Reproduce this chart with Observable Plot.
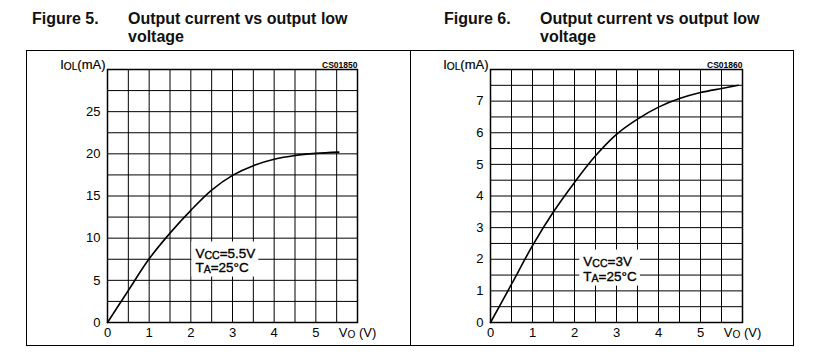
<!DOCTYPE html>
<html><head><meta charset="utf-8">
<script src="https://cdn.jsdelivr.net/npm/d3@7"></script>
<script src="https://cdn.jsdelivr.net/npm/@observablehq/plot@0.6"></script>
<style>
body{margin:0;background:#fff;width:823px;height:363px;position:relative;overflow:hidden;font-family:"Liberation Sans",Arial,sans-serif;}
.title{position:absolute;top:10px;font-weight:bold;font-size:16px;line-height:18px;color:#111;white-space:nowrap;}
.box{position:absolute;top:50px;height:296px;border:1px solid #000;box-sizing:border-box;pointer-events:none;}
.chart{position:absolute;top:50px;}
</style></head><body>
<div class="title" style="left:32px">Figure 5.</div>
<div class="title" style="left:128px">Output current vs output low<br>voltage</div>
<div class="title" style="left:444px">Figure 6.</div>
<div class="title" style="left:540px">Output current vs output low<br>voltage</div>
<div id="c5" class="chart" style="left:26px"></div>
<div id="c6" class="chart" style="left:410px"></div>
<div class="box" style="left:26px;width:385px"></div>
<div class="box" style="left:410px;width:384px"></div>
<script>
// ---- data ----
const xGrid = [0,0.5,1,1.5,2,2.5,3,3.5,4,4.5,5,5.5,6];
const xTicks = [0,1,2,3,4,5,6];
const xLabel = "V{O} (V)";
const yLabel = "I{OL}(mA)";

// Figure 5 (VCC = 5.5 V)
const f5Vo  = [0,0.5,1,1.5,2,2.5,3,3.5,4,4.5,5,5.55];
const f5Iol = [0,3.8,7.55,10.6,13.3,15.7,17.45,18.6,19.35,19.8,20.05,20.2];
const f5YGrid = [0,2.5,5,7.5,10,12.5,15,17.5,20,22.5,25,27.5,30];
const f5YTicks = [0,5,10,15,20,25];
const f5Code = "CS01850";
const f5Note = ["V{CC}=5.5V","T{A}=25°C"];
const f5NoteAt = {x: 2.11, y: 7.7};

// Figure 6 (VCC = 3 V)
const f6Vo  = [0,0.5,1,1.5,2,2.5,3,3.5,4,4.5,5,5.5,5.9];
const f6Iol = [0,1.21,2.43,3.5,4.43,5.27,5.95,6.43,6.81,7.08,7.27,7.4,7.5];
const f6YGrid = [0,0.5,1,1.5,2,2.5,3,3.5,4,4.5,5,5.5,6,6.5,7,7.5,8];
const f6YTicks = [0,1,2,3,4,5,6,7];
const f6Code = "CS01860";
const f6Note = ["V{CC}=3V","T{A}=25°C"];
const f6NoteAt = {x: 2.21, y: 1.8};

const FONT = "Liberation Sans, Arial, sans-serif";
const SVGNS = "http://www.w3.org/2000/svg";

function makeChart(cfg) {
  const data = cfg.vo.map((v,i) => ({vo: v, iol: cfg.iol[i]}));
  const heavy = {fill: "#000", stroke: "#000", strokeWidth: 0.35};
  const svg = Plot.plot({
    width: cfg.width, height: 296,
    marginLeft: cfg.ml, marginRight: cfg.mr, marginTop: 19, marginBottom: 24,
    style: {fontFamily: FONT, color: "#000", background: "transparent", overflow: "visible"},
    x: {domain: [0, 6]},
    y: {domain: cfg.yDomain},
    marks: [
      Plot.ruleX(xGrid, {stroke: "#000", strokeWidth: 1}),
      Plot.ruleY(cfg.yGrid, {stroke: "#000", strokeWidth: 1}),
      Plot.frame({stroke: "#000", strokeWidth: 1.5}),
      Plot.axisX(xTicks, {tickSize: 0, tickPadding: 5, fontSize: 13, label: null, ...heavy,
        tickFormat: d => d === 6 ? xLabel : String(d)}),
      Plot.axisY(cfg.yTicks, {tickSize: 0, tickPadding: 7, fontSize: 13, label: null, ...heavy}),
      Plot.line(data, {x: "vo", y: "iol", curve: "catmull-rom", stroke: "#000", strokeWidth: 1.6}),
      Plot.text([yLabel], {frameAnchor: "top-left", text: d => d, textAnchor: "end", lineAnchor: "bottom", dx: -2, dy: -1, fontSize: 13, fill: "#000", stroke: "#000", strokeWidth: 0.2}),
      Plot.text([cfg.code], {frameAnchor: "top-right", text: d => d, textAnchor: "end", lineAnchor: "bottom", dy: -2, fontSize: 8.5, fontWeight: "bold", fill: "#000"}),
      Plot.text([cfg.noteAt], {x: "x", y: "y", text: () => cfg.note[0], textAnchor: "start", lineAnchor: "bottom", fontSize: 13.5, ...heavy}),
      Plot.text([cfg.noteAt], {x: "x", y: "y", text: () => cfg.note[1], textAnchor: "start", lineAnchor: "bottom", dy: cfg.lineGap, fontSize: 13.5, ...heavy})
    ]
  });
  document.getElementById(cfg.id).appendChild(svg);
  const noteTexts = [...svg.querySelectorAll("text")].filter(t => cfg.note.includes(t.textContent));
  richify(svg);
  if (noteTexts.length) {
    const sb = svg.getBoundingClientRect();
    let x0=Infinity,y0=Infinity,x1=-Infinity,y1=-Infinity;
    noteTexts.forEach(t => {
      const b = t.getBoundingClientRect();
      x0=Math.min(x0,b.left-sb.left); y0=Math.min(y0,b.top-sb.top);
      x1=Math.max(x1,b.right-sb.left); y1=Math.max(y1,b.bottom-sb.top);
    });
    const g = noteTexts[0].closest("g");
    const r = document.createElementNS(SVGNS,"rect");
    r.setAttribute("x", x0-4); r.setAttribute("y", y0-4);
    r.setAttribute("width", x1-x0+7); r.setAttribute("height", y1-y0+6);
    r.setAttribute("fill", "#fff"); r.setAttribute("stroke", "none");
    svg.insertBefore(r, g);
  }
}

function richify(svg) {
  svg.querySelectorAll("text").forEach(t => {
    const s = t.textContent;
    if (!s.includes("{") || t.querySelector("tspan")) return;
    const parts = s.split(/(\{[^}]*\})/).filter(p => p);
    while (t.firstChild) t.removeChild(t.firstChild);
    let sub = false;
    parts.forEach(p => {
      const ts = document.createElementNS(SVGNS,"tspan");
      if (p.startsWith("{")) {
        ts.textContent = p.slice(1,-1);
        ts.setAttribute("font-size","78%");
        ts.setAttribute("dy", "1");
        sub = true;
      } else {
        ts.textContent = p;
        if (sub) { ts.setAttribute("dy","-1"); sub = false; }
      }
      t.appendChild(ts);
    });
  });
}

makeChart({id: "c5", width: 385, ml: 81, mr: 54, vo: f5Vo, iol: f5Iol, yDomain: [0,30], yGrid: f5YGrid, yTicks: f5YTicks, code: f5Code, note: f5Note, noteAt: f5NoteAt, lineGap: 14});
makeChart({id: "c6", width: 384, ml: 80, mr: 52, vo: f6Vo, iol: f6Iol, yDomain: [0,8], yGrid: f6YGrid, yTicks: f6YTicks, code: f6Code, note: f6Note, noteAt: f6NoteAt, lineGap: 15});
</script>
</body></html>
